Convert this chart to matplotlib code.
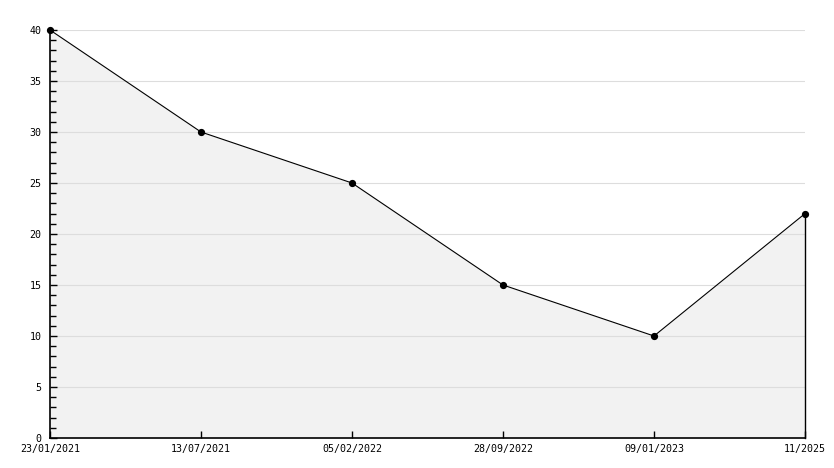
import matplotlib
matplotlib.use("Agg")
from matplotlib import pyplot as plt
from matplotlib.ticker import MultipleLocator
import numpy as np

dates = ["23/01/2021", "13/07/2021", "05/02/2022", "28/09/2022", "09/01/2023", "11/2025"]
values = [40, 30, 25, 15, 10, 22]

plt.rcParams['font.family'] = ['DejaVu Sans Mono']

fig = plt.figure(figsize=(8.34, 4.68), dpi=100)
ax = fig.add_axes([50/834, 30/468, 755/834, 408/468])

x = np.arange(len(values))
# fill sits under the axis (grid + ticks), the line on top
ax.fill_between(x, values, 0, color='#f2f2f2', lw=0, zorder=0.3)
ax.plot(x, values, color='black', lw=0.8, marker='o', ms=4.2, zorder=3, clip_on=False)
# right edge of the filled area
ax.plot([x[-1], x[-1]], [0, values[-1]], color='black', lw=1, zorder=3, clip_on=False)

ax.set_xlim(0, len(values) - 1)
ax.set_ylim(0, 40)
ax.set_xticks(x)
ax.set_xticklabels(dates, fontsize=7.2)
ax.yaxis.set_major_locator(MultipleLocator(5))
ax.yaxis.set_minor_locator(MultipleLocator(1))
ax.tick_params(axis='y', which='major', direction='in', length=5, width=1, labelsize=7.2, pad=6)
ax.tick_params(axis='y', which='minor', direction='in', length=4, width=1)
ax.tick_params(axis='x', which='major', direction='in', length=5, width=1, pad=4)
ax.grid(axis='y', which='major', color='#dddddd', lw=0.8)
ax.set_axisbelow(True)

for s in ['top', 'right']:
    ax.spines[s].set_visible(False)
ax.spines['left'].set_linewidth(1.2)
ax.spines['bottom'].set_linewidth(1.2)
ax.spines['left'].set_zorder(2.5)
ax.spines['bottom'].set_zorder(2.5)

fig.savefig("out.png", dpi=100)
